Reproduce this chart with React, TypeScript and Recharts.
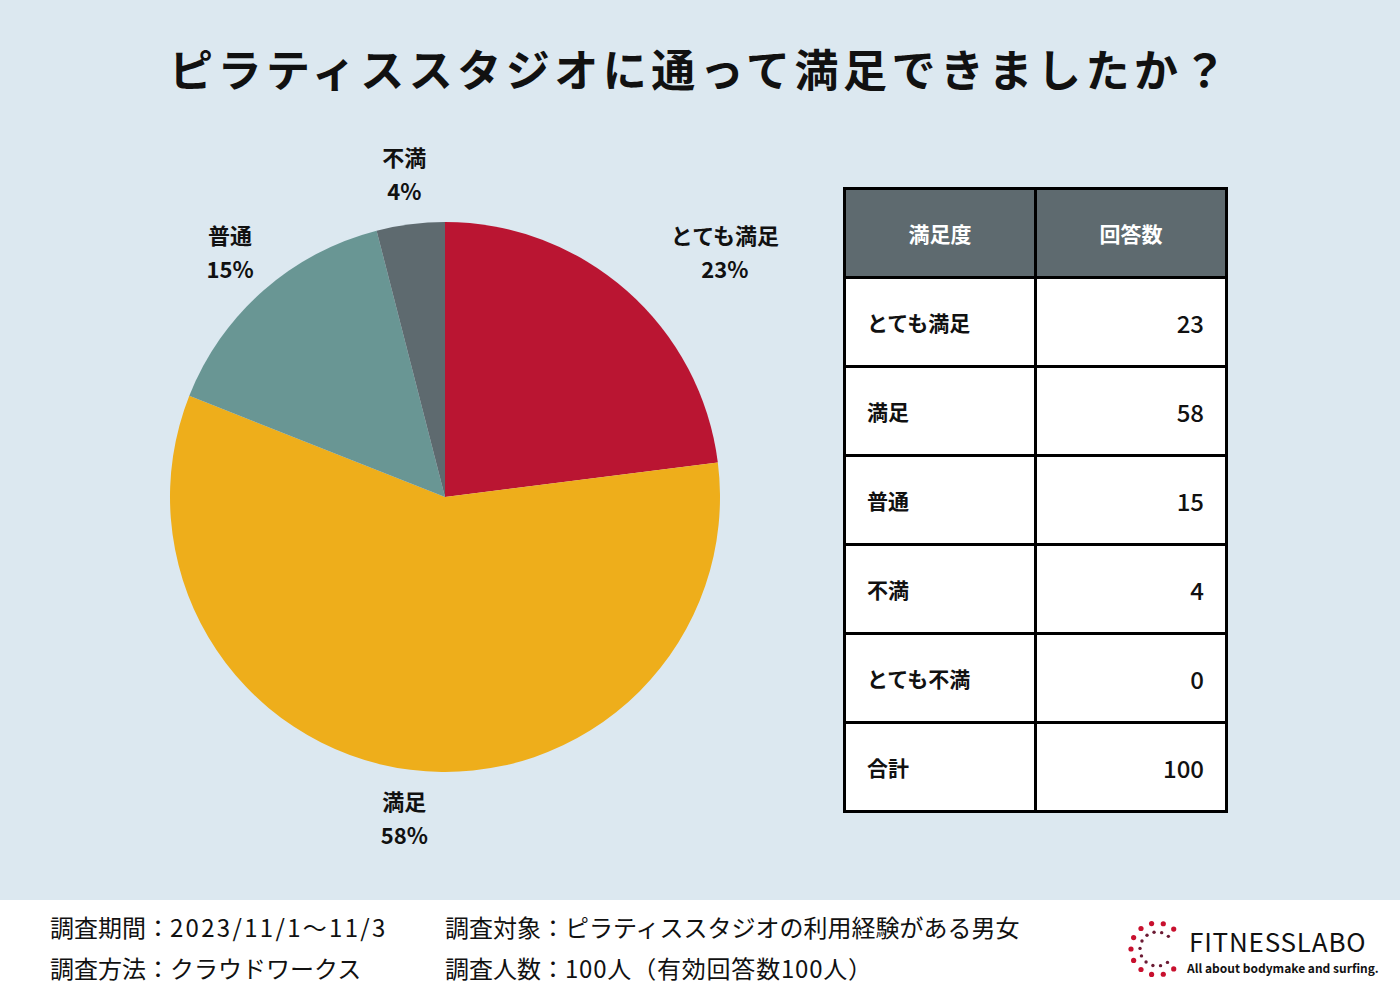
import React from "react";
import { PieChart, Pie, Cell } from "recharts";

const categories = ["とても満足", "満足", "普通", "不満", "とても不満"];
const counts = [23, 58, 15, 4, 0];
const colors = ["#BA1532", "#EEAE1B", "#699694", "#5E6A6F", "#8A8A8A"];
const tableHeaders = ["満足度", "回答数"];
const totalLabel = "合計";
const title = "ピラティススタジオに通って満足できましたか？";
const footerLeft = [
  ["調査期間：", "2023/11/1～11/3"],
  ["調査方法：", "クラウドワークス"],
];
const footerRight = [
  ["調査対象：", "ピラティススタジオの利用経験がある男女"],
  ["調査人数：", "100人（有効回答数100人）"],
];

const FONT = '"Noto Sans CJK JP", "Noto Sans", sans-serif';

const pieData = categories
  .map((name, i) => ({ name, value: counts[i], color: colors[i] }))
  .filter((d) => d.value > 0);

const total = counts.reduce((a, b) => a + b, 0);

const RAD = Math.PI / 180;

const renderLabel = (props: any) => {
  const { cx, cy, midAngle, outerRadius, name, percent, index } = props;
  const r = outerRadius + 50;
  let x = cx + r * Math.cos(-midAngle * RAD);
  const y = cy + r * Math.sin(-midAngle * RAD) - 2;
  if (index === 0) x += 65;
  return (
    <g>
      <text x={x} y={y - 17} textAnchor="middle" dominantBaseline="central" fontFamily={FONT} fontWeight={700} fontSize={22} fill="#111">
        {name}
      </text>
      <text x={x} y={y + 17} textAnchor="middle" dominantBaseline="central" fontFamily={FONT} fontWeight={700} fontSize={22} fill="#111">
        {`${Math.round(percent * 100)}%`}
      </text>
    </g>
  );
};

const Logo = () => {
  const cx = 1157;
  const cy = 949;
  const outer: React.ReactNode[] = [];
  const inner: React.ReactNode[] = [];
  for (let k = 0; k < 11; k++) {
    const a = (-50 - k * 26) * RAD;
    outer.push(<circle key={"o" + k} cx={cx + 26 * Math.cos(a)} cy={cy + 26 * Math.sin(a)} r={2.6} fill="#C8102E" />);
  }
  for (let k = 0; k < 11; k++) {
    const a = (-48 - k * 26) * RAD;
    inner.push(<circle key={"i" + k} cx={cx + 17 * Math.cos(a)} cy={cy + 17 * Math.sin(a)} r={1.7} fill="#6B1A33" />);
  }
  return (
    <svg width={1400} height={100} viewBox="0 900 1400 100" style={{ position: "absolute", left: 0, top: 900 }}>
      {outer}
      {inner}
      <text x={1189} y={952} fontFamily={FONT} fontSize={26} letterSpacing={0.8} fill="#111">FITNESSLABO</text>
      <text x={1187} y={973} fontFamily={FONT} fontSize={12} fontWeight={700} fill="#111">All about bodymake and surfing.</text>
    </svg>
  );
};

export default function App() {
  const border = "3px solid #000";
  const rows = categories.map((c, i) => ({ label: c, value: counts[i] }));
  rows.push({ label: totalLabel, value: total });
  const cell: React.CSSProperties = { height: 89, border, padding: 0, boxSizing: "border-box" };
  return (
    <div style={{ position: "absolute", left: 0, top: 0, width: 1400, height: 1000, background: "#DCE8F0", fontFamily: FONT, overflow: "hidden" }}>
      <div style={{ position: "absolute", left: 0, top: 38, width: 1400, textAlign: "center", fontSize: 44, fontWeight: 700, letterSpacing: 4.5, lineHeight: "60px", color: "#111" }}>
        {title}
      </div>
      <div style={{ position: "absolute", left: 0, top: 0 }}>
        <PieChart width={840} height={900} margin={{ top: 0, right: 0, bottom: 0, left: 0 }}>
          <Pie
            data={pieData}
            dataKey="value"
            nameKey="name"
            cx={445}
            cy={497}
            outerRadius={275}
            startAngle={90}
            endAngle={-270}
            stroke="none"
            label={renderLabel}
            labelLine={false}
            isAnimationActive={false}
          >
            {pieData.map((d, i) => (
              <Cell key={i} fill={d.color} />
            ))}
          </Pie>
        </PieChart>
      </div>
      <table style={{ position: "absolute", left: 843, top: 187, width: 382, borderCollapse: "collapse", tableLayout: "fixed", fontFamily: FONT }}>
        <colgroup>
          <col style={{ width: 191 }} />
          <col style={{ width: 191 }} />
        </colgroup>
        <thead>
          <tr>
            {tableHeaders.map((h) => (
              <th key={h} style={{ ...cell, background: "#5E6A6F", color: "#fff", fontSize: 21, fontWeight: 700, textAlign: "center" }}>
                {h}
              </th>
            ))}
          </tr>
        </thead>
        <tbody>
          {rows.map((r) => (
            <tr key={r.label}>
              <td style={{ ...cell, background: "#fff", fontSize: 21, fontWeight: 700, textAlign: "left", paddingLeft: 21, color: "#111" }}>{r.label}</td>
              <td style={{ ...cell, background: "#fff", fontSize: 24, fontWeight: 500, textAlign: "right", paddingRight: 21, color: "#111" }}>{r.value}</td>
            </tr>
          ))}
        </tbody>
      </table>
      <div style={{ position: "absolute", left: 0, top: 900, width: 1400, height: 100, background: "#fff" }} />
      <div style={{ position: "absolute", left: 50, top: 906, fontSize: 24, lineHeight: "41px", color: "#111" }}>
        {footerLeft.map((t, i) => (
          <div key={i}>
            {t[0]}
            <span style={{ letterSpacing: i === 0 ? 2.3 : 0 }}>{t[1]}</span>
          </div>
        ))}
      </div>
      <div style={{ position: "absolute", left: 445, top: 906, fontSize: 24, lineHeight: "41px", color: "#111" }}>
        {footerRight.map((t, i) => (
          <div key={i}>
            {t[0]}
            <span style={{ letterSpacing: i === 1 ? 0.8 : 0 }}>{t[1]}</span>
          </div>
        ))}
      </div>
      <Logo />
    </div>
  );
}
